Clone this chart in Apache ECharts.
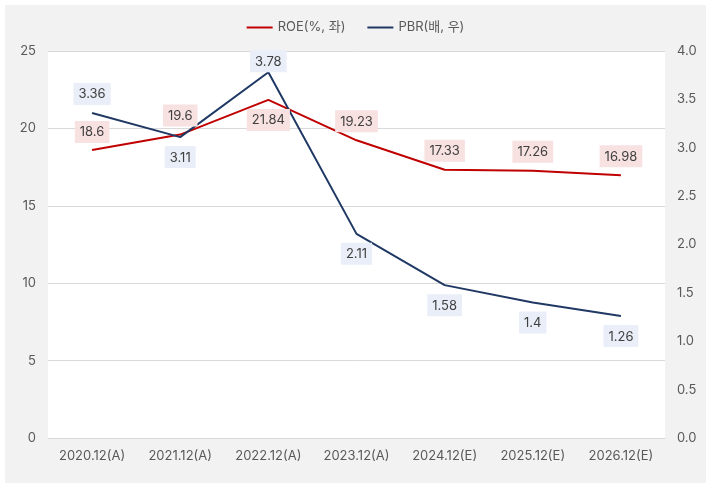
<!DOCTYPE html>
<html><head><meta charset="utf-8">
<script src="https://cdn.jsdelivr.net/npm/echarts@6/dist/echarts.min.js"></script>
<style>
html,body{margin:0;padding:0;background:#fff;width:712px;height:489px;overflow:hidden}
#c{position:absolute;left:5px;top:5px;width:701px;height:478px;background:#f2f2f2}
</style></head><body><div id="c"></div>
<script>
const categories = ['2020.12(A)','2021.12(A)','2022.12(A)','2023.12(A)','2024.12(E)','2025.12(E)','2026.12(E)'];
const roe = [18.6, 19.6, 21.84, 19.23, 17.33, 17.26, 16.98];
const pbr = [3.36, 3.11, 3.78, 2.11, 1.58, 1.4, 1.26];
const roeLabelPos = ['top','top','bottom','top','top','top','top'];
const pbrLabelPos = ['top','bottom','top','bottom','bottom','bottom','bottom'];
const roeLabelDist = [7, 8, 9, 8, 8, 8, 8];
const pbrLabelDist = [8, 9, 0, 9, 9, 9, 9];
const FONT = 'Inter, "Noto Sans CJK KR", sans-serif';

const chart = echarts.init(document.getElementById('c'), null, {renderer:'canvas'});
function mk(vals, pos, dist, bg){
  return vals.map((v,i)=>({value:v, label:{position:pos[i], distance:dist[i], backgroundColor:bg}}));
}
chart.setOption({
  backgroundColor:'#f2f2f2',
  textStyle:{fontFamily:FONT},
  animation:false,
  legend:{
    top:11, left:'center', icon:'rect', itemWidth:26, itemHeight:2, itemGap:22,
    textStyle:{color:'#595959', fontSize:13, fontFamily:FONT},
    data:['ROE(%, 좌)','PBR(배, 우)']
  },
  grid:{left:43, top:46, right:41, bottom:45, show:true, backgroundColor:'#ffffff', borderWidth:0},
  xAxis:{
    type:'category', data:categories, boundaryGap:true,
    axisLine:{show:true, lineStyle:{color:'#d9d9d9'}}, axisTick:{show:false},
    axisLabel:{color:'#595959', fontSize:13, margin:12, fontFamily:FONT}
  },
  yAxis:[
    {type:'value', min:0, max:25, interval:5,
     axisLine:{show:false}, axisTick:{show:false},
     splitLine:{lineStyle:{color:'#d9d9d9'}},
     axisLabel:{color:'#595959', fontSize:13, margin:12, fontFamily:FONT}},
    {type:'value', min:0, max:4, interval:0.5, position:'right',
     axisLine:{show:false}, axisTick:{show:false}, splitLine:{show:false},
     axisLabel:{color:'#595959', fontSize:13, margin:12, fontFamily:FONT, formatter:v=>v.toFixed(1)}}
  ],
  series:[
    {name:'ROE(%, 좌)', type:'line', yAxisIndex:0, data:mk(roe, roeLabelPos, roeLabelDist, '#f8e1e1'),
     showSymbol:true, symbol:'circle', symbolSize:0, itemStyle:{color:'#c00000'}, lineStyle:{color:'#c00000', width:2},
     label:{show:true, color:'#404040', fontSize:13, padding:[5,5,4,5], fontFamily:FONT}},
    {name:'PBR(배, 우)', type:'line', yAxisIndex:1, data:mk(pbr, pbrLabelPos, pbrLabelDist, '#e9eef8'),
     showSymbol:true, symbol:'circle', symbolSize:0, itemStyle:{color:'#203864'}, lineStyle:{color:'#203864', width:2},
     label:{show:true, color:'#404040', fontSize:13, padding:[5,5,4,5], fontFamily:FONT}}
  ]
});
</script></body></html>
